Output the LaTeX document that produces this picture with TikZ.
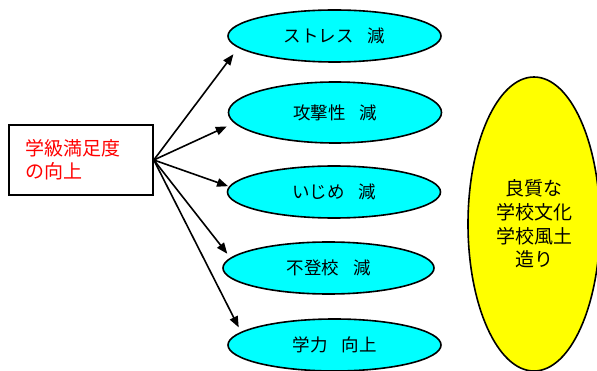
\documentclass[tikz,border=0pt]{standalone}
\usepackage{fontspec}
\setmainfont{Noto Sans CJK JP}
\usepackage{tikz}
\usepackage{xcolor}
\usetikzlibrary{shapes.geometric,arrows.meta}
\definecolor{aqua}{RGB}{0,255,255}
\definecolor{lemon}{RGB}{255,255,0}
\newcommand{\gap}{\hspace{0.8em}}

\begin{document}
\begin{tikzpicture}[x=1pt,y=-1pt,line width=1.6pt,>={Triangle[length=11pt,width=8.5pt]},
goal node/.style={ellipse,draw=black,fill=aqua,inner sep=0pt,minimum width=213pt,minimum height=52pt,font=\fontsize{17.5}{20}\selectfont},
base node/.style={rectangle,draw=black,align=left,text=red,inner sep=0pt,text width=112pt,minimum height=70pt,font=\fontsize{19}{23}\selectfont}]
\tikzstyle{culture node} = [ellipse,draw=black,fill=lemon,inner sep=0pt,minimum width=132pt,minimum height=294pt,align=center,font=\fontsize{19}{23.7}\selectfont]
\useasboundingbox (0,0) rectangle (597,371);

% Draw nodes
\node[base node,minimum width=144pt,text width=112pt] (CS) at (81,160) {学級満足度\\の向上};
\node[goal node] (ST) at (334.5,36) {ストレス\gap 減};
\node[goal node,minimum height=61pt] (AG) at (335,112.5) {攻撃性\gap 減};
\node[goal node] (BU) at (334,192) {いじめ\gap 減};
\node[goal node,minimum width=211pt] (AB) at (328.5,268) {不登校\gap 減};
\node[goal node] (AC) at (334.5,345) {学力\gap 向上};
\node[culture node] (SC) at (534,224) {良質な\\学校文化\\学校風土\\造り};

% Draw arrows
\draw[->,shorten >=8pt] (CS.east) -- (ST.187);
\draw[->,shorten >=8pt] (CS.east) -- (AG.186);
\draw[->,shorten >=1pt] (CS.east) -- (BU.177);
\draw[->,shorten >=5pt] (CS.east) -- (AB.174);
\draw[->,shorten >=5pt] (CS.east) -- (AC.172);

\end{tikzpicture}
\end{document}
